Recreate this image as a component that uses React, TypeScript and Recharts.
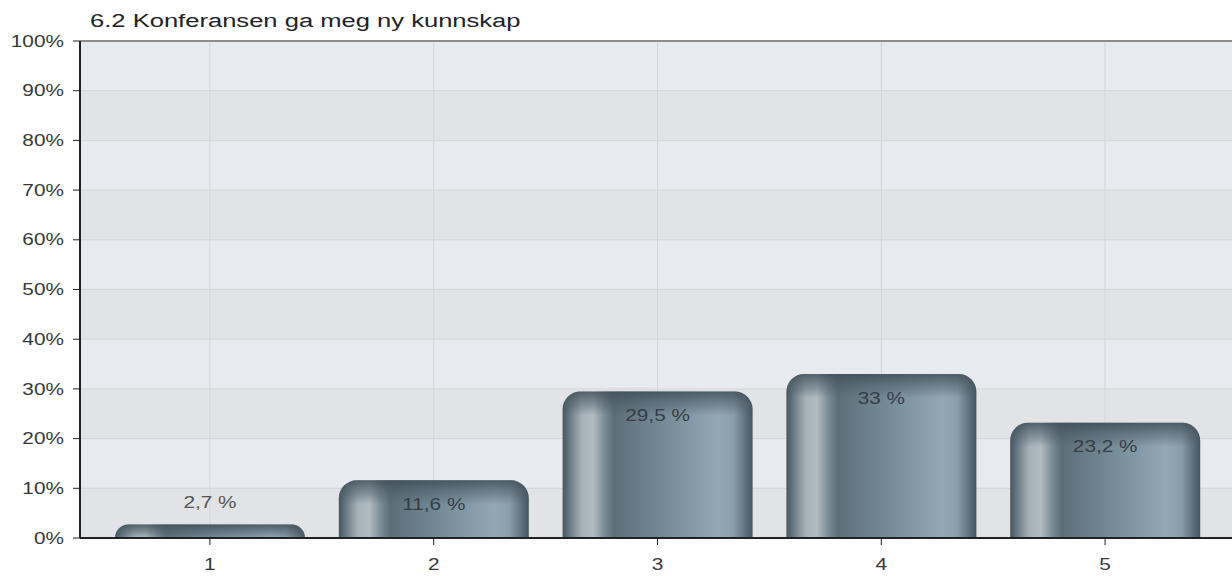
import { BarChart, Bar, XAxis, YAxis, CartesianGrid, ReferenceLine, LabelList } from 'recharts'

const title = '6.2 Konferansen ga meg ny kunnskap'
const categories = ['1', '2', '3', '4', '5']
const shares = [2.7, 11.6, 29.5, 33, 23.2]
const yTicks = [0, 10, 20, 30, 40, 50, 60, 70, 80, 90, 100]

const data = categories.map((c, i) => ({ answer: c, share: shares[i] }))

const FONT = '"Liberation Sans", Arial, sans-serif'
const STRETCH = 1.3

// eslint-disable-next-line @typescript-eslint/no-explicit-any
function YTick({ x, y, payload }: any) {
  return (
    <g transform={`translate(${x},${y})`}>
      <text transform={`scale(${STRETCH},1)`} textAnchor="end" dy="0.355em" fontSize={16} fontFamily={FONT} fill="#383838">
        {payload.value}%
      </text>
    </g>
  )
}

// eslint-disable-next-line @typescript-eslint/no-explicit-any
function XTick({ x, y, payload }: any) {
  return (
    <g transform={`translate(${x},${y})`}>
      <text transform={`scale(${STRETCH},1)`} textAnchor="middle" dy="0.355em" fontSize={16} fontFamily={FONT} fill="#383838">
        {payload.value}
      </text>
    </g>
  )
}

function topRounded(x: number, y: number, w: number, h: number, r: number) {
  return `M${x},${y + h} L${x},${y + r} A${r},${r} 0 0 1 ${x + r},${y} L${x + w - r},${y} A${r},${r} 0 0 1 ${x + w},${y + r} L${x + w},${y + h} Z`
}

// eslint-disable-next-line @typescript-eslint/no-explicit-any
function CylinderBar(props: any) {
  const { x, y, width, height } = props
  if (!height || height <= 0) return null
  const r = Math.min(18, height, width / 2)
  const capH = Math.min(height, 24)
  return (
    <g>
      <path d={topRounded(x, y, width, height, r)} fill="url(#barGrad)" />
      <path d={topRounded(x, y, width, capH, Math.min(r, capH))} fill="url(#capGrad)" />
    </g>
  )
}

// eslint-disable-next-line @typescript-eslint/no-explicit-any
function ShareLabel(props: any) {
  const { x, y, width, height, value } = props
  const inside = height > 30
  const cy = inside ? y + 24 : y - 22
  return (
    <g transform={`translate(${x + width / 2},${cy})`}>
      <text
        transform={`scale(${STRETCH},1)`}
        textAnchor="middle"
        dy="0.355em"
        fontSize={16}
        fontFamily={FONT}
        fill={inside ? '#353d44' : '#555'}
      >
        {String(value).replace('.', ',')} %
      </text>
    </g>
  )
}

export default function App() {
  return (
    <div style={{ position: 'absolute', left: 0, top: 0, width: 1232, height: 576, overflow: 'hidden', background: '#fff' }}>
      <div
        style={{
          position: 'absolute',
          left: 90,
          top: 12,
          fontFamily: FONT,
          fontSize: 18,
          lineHeight: '18px',
          color: '#222',
          whiteSpace: 'nowrap',
          transform: 'scaleX(1.42)',
          transformOrigin: 'left top',
        }}
      >
        {title}
      </div>
      <BarChart width={1235} height={576} data={data} margin={{ top: 41, right: 0, bottom: 0, left: 0 }} barSize={190}>
        <defs>
          <linearGradient id="barGrad" x1="0" y1="0" x2="1" y2="0">
            <stop offset="0%" stopColor="#46555e" />
            <stop offset="4%" stopColor="#6c7c86" />
            <stop offset="10%" stopColor="#a5b1b7" />
            <stop offset="16%" stopColor="#b2bdc2" />
            <stop offset="22%" stopColor="#7c8c96" />
            <stop offset="27%" stopColor="#5e6e79" />
            <stop offset="50%" stopColor="#718794" />
            <stop offset="82%" stopColor="#94a8b4" />
            <stop offset="90%" stopColor="#8a9dab" />
            <stop offset="96%" stopColor="#607180" />
            <stop offset="100%" stopColor="#46545e" />
          </linearGradient>
          <linearGradient id="capGrad" x1="0" y1="0" x2="0" y2="1">
            <stop offset="0%" stopColor="#3c4a53" stopOpacity={0.8} />
            <stop offset="55%" stopColor="#4a5a64" stopOpacity={0.45} />
            <stop offset="100%" stopColor="#4a5a64" stopOpacity={0} />
          </linearGradient>
        </defs>
        <CartesianGrid
          stroke="#d3d5d8"
          horizontalFill={['#e7eaee', '#e2e3e6']}
          fillOpacity={1}
        />
        <XAxis
          dataKey="answer"
          padding={{ left: 18, right: 18 }}
          height={38}
          axisLine={{ stroke: '#222', strokeWidth: 2 }}
          tickLine={{ stroke: '#222' }}
          tickSize={7}
          tickMargin={19}
          tick={<XTick />}
        />
        <YAxis
          domain={[0, 100]}
          ticks={yTicks}
          width={80}
          axisLine={{ stroke: '#222', strokeWidth: 2 }}
          tickLine={{ stroke: '#222' }}
          tickSize={7}
          tickMargin={9}
          tick={<YTick />}
          interval={0}
        />
        <ReferenceLine y={100} stroke="#8c8c8c" strokeWidth={2} />
        <Bar dataKey="share" shape={<CylinderBar />} isAnimationActive={false}>
          <LabelList dataKey="share" content={<ShareLabel />} />
        </Bar>
      </BarChart>
    </div>
  )
}
